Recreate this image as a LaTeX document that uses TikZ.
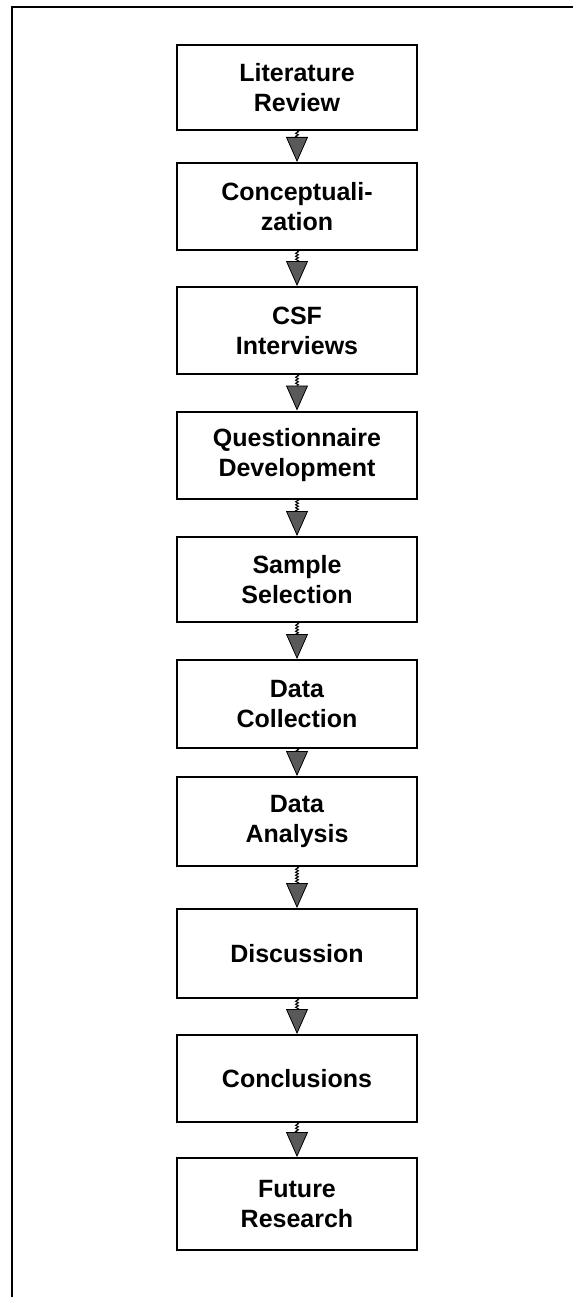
\documentclass[tikz,border=0pt]{standalone}
\usepackage{fontspec}
\setmainfont{Liberation Sans}
\usetikzlibrary{arrows.meta,decorations.pathmorphing}

\tikzset{
  stepbox/.style={draw=black, line width=2pt, fill=white,
    minimum width=240pt, minimum height=87pt, inner sep=0pt,
    align=center, font=\bfseries\fontsize{25}{30}\selectfont},
  link/.style={line width=1pt, black,
    -{Triangle[width=22pt,length=25pt,fill=black!65,line width=0.8pt]},
    decoration={zigzag, amplitude=1.4pt, segment length=3pt, post length=24pt},
    decorate},
  frame/.style={line width=2pt, black}
}

\begin{document}
\begin{tikzpicture}[x=1pt,y=1pt]
  \useasboundingbox (0,0) rectangle (573,-1297);

  % open frame: left side and top edge
  \coordinate (fb) at (12,-1297);
  \coordinate (fc) at (12,-7);
  \coordinate (fr) at (573,-7);
  \draw[frame] (fb) -- (fc) -- (fr);

  % process steps
  \node[stepbox, minimum height=85pt] (n1) at (297,-87.5)  {Literature\\Review};
  \node[stepbox] (n2) at (297,-206.5) {Conceptuali-\\zation};
  \node[stepbox] (n3) at (297,-330.5) {CSF\\Interviews};
  \node[stepbox] (n4) at (297,-455)   {Questionnaire\\Development};
  \node[stepbox, minimum height=85pt] (n5) at (297,-579.5) {Sample\\Selection};
  \node[stepbox, minimum height=88pt] (n6) at (297,-704)   {Data\\Collection};
  \node[stepbox, minimum height=89pt] (n7) at (297,-821.5) {Data\\Analysis};
  \node[stepbox, minimum height=89pt] (n8) at (297,-953.5) {Discussion};
  \node[stepbox] (n9) at (297,-1078.5) {Conclusions};
  \node[stepbox, minimum height=92pt] (n10) at (297,-1204) {Future\\Research};

  % connectors
  \foreach \a/\b in {n1/n2,n2/n3,n3/n4,n4/n5,n5/n6,n6/n7,n7/n8,n8/n9,n9/n10}
    \draw[link] (\a.south) -- (\b.north);
\end{tikzpicture}
\end{document}
